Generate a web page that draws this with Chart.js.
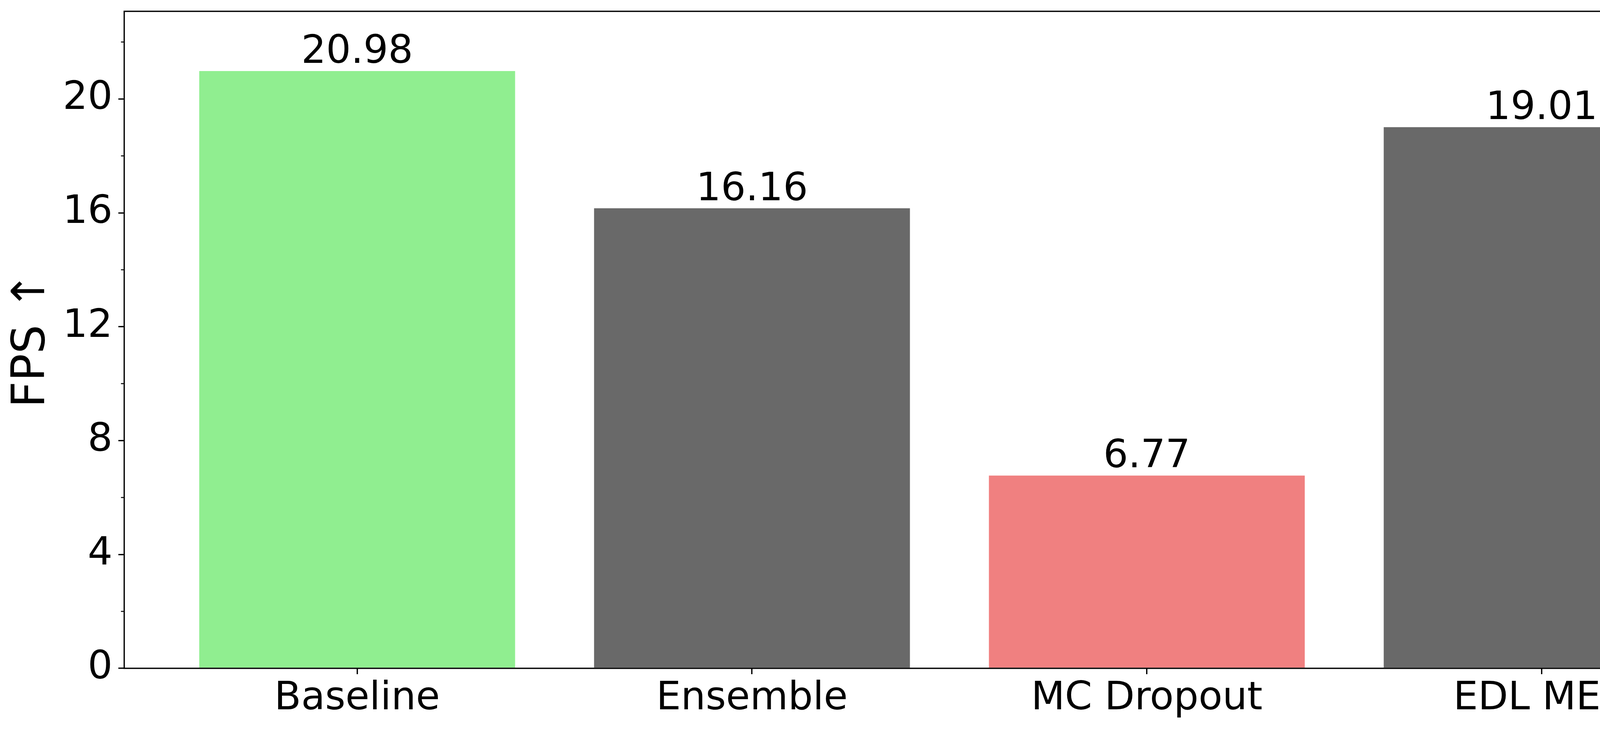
<!DOCTYPE html>
<html>
<head>
<meta charset="utf-8">
<script src="https://cdn.jsdelivr.net/npm/chart.js@4/dist/chart.umd.min.js"></script>
<style>
  html, body { margin: 0; padding: 0; background: #ffffff; overflow: hidden; }
  canvas { display: block; }
</style>
</head>
<body>
<canvas id="fpsChart" width="4572" height="1870"></canvas>
<script>
const categories = ['Baseline', 'Ensemble', 'MC Dropout', 'EDL MEH'];
const categoryPositions = [0, 1, 2, 3];
const fpsValues = [20.98, 16.16, 6.77, 19.01];
const valueLabels = ['20.98', '16.16', '6.77', '19.01'];
const barColors = ['#90EE90', '#696969', '#F08080', '#696969'];
const yMajorTicks = [0, 4, 8, 12, 16, 20];
const yMinorTicks = [2, 6, 10, 14, 18, 22];
const yMax = 23.078;
const xMin = -0.59;
const xMax = 3.59;

const LINE_W = 3.33;
const FONT = 'DejaVu Sans';

Chart.defaults.font.family = FONT;
Chart.defaults.color = '#000000';

// keep the plot box where matplotlib put it
function noPadding(axis) {
    axis.paddingTop = 0;
    axis.paddingBottom = 0;
    axis.paddingLeft = 0;
    axis.paddingRight = 0;
}

// spines (drawn on top of the bars like matplotlib), value labels, minor ticks
const frameAndLabels = {
    id: 'frameAndLabels',
    afterDatasetsDraw(chart) {
        const ctx = chart.ctx;
        const area = chart.chartArea;
        const meta = chart.getDatasetMeta(0);

        ctx.save();
        ctx.font = '100px "' + FONT + '"';
        ctx.fillStyle = '#000000';
        ctx.textAlign = 'center';
        ctx.textBaseline = 'alphabetic';
        meta.data.forEach((bar, i) => {
            ctx.fillText(valueLabels[i], bar.x, bar.y - 21);
        });

        ctx.strokeStyle = '#000000';
        ctx.lineWidth = LINE_W;
        ctx.strokeRect(area.left, area.top, area.right - area.left, area.bottom - area.top);
        ctx.restore();
    },
    afterDraw(chart) {
        const ctx = chart.ctx;
        const yScale = chart.scales.y;
        const left = chart.chartArea.left;
        ctx.save();
        ctx.strokeStyle = '#000000';
        ctx.lineWidth = 2.5;
        yMinorTicks.forEach(v => {
            const py = yScale.getPixelForValue(v);
            ctx.beginPath();
            ctx.moveTo(left - 8.3, py);
            ctx.lineTo(left, py);
            ctx.stroke();
        });
        ctx.restore();
    }
};

new Chart(document.getElementById('fpsChart'), {
    type: 'bar',
    data: {
        datasets: [{
            data: categoryPositions.map((x, i) => ({ x: x, y: fpsValues[i] })),
            backgroundColor: barColors,
            borderWidth: 0,
            categoryPercentage: 1.0,
            barPercentage: 0.8
        }]
    },
    options: {
        responsive: false,
        animation: false,
        devicePixelRatio: 1,
        layout: { padding: { top: 29, right: 29, left: 0, bottom: 0 } },
        plugins: {
            legend: { display: false },
            tooltip: { enabled: false }
        },
        scales: {
            x: {
                type: 'linear',
                offset: false,
                min: xMin,
                max: xMax,
                afterBuildTicks: axis => {
                    axis.ticks = categoryPositions.map(v => ({ value: v }));
                },
                afterFit: axis => { axis.height = 158; noPadding(axis); },
                border: { display: false },
                grid: {
                    offset: false,
                    drawOnChartArea: false,
                    drawTicks: true,
                    tickLength: 15,
                    lineWidth: LINE_W,
                    tickWidth: LINE_W,
                    tickColor: '#000000'
                },
                ticks: {
                    autoSkip: false,
                    maxRotation: 0,
                    padding: 4,
                    font: { size: 100 },
                    callback: v => categories[v]
                }
            },
            y: {
                min: 0,
                max: yMax,
                afterBuildTicks: axis => {
                    axis.ticks = yMajorTicks.map(v => ({ value: v }));
                },
                afterFit: axis => { axis.width = 318; noPadding(axis); },
                border: { display: false },
                grid: {
                    drawOnChartArea: false,
                    drawTicks: true,
                    tickLength: 15,
                    lineWidth: LINE_W,
                    tickWidth: LINE_W,
                    tickColor: '#000000'
                },
                ticks: {
                    padding: 15,
                    font: { size: 100 },
                    callback: v => String(v)
                },
                title: {
                    display: true,
                    text: 'FPS ↑',
                    font: { size: 117 },
                    padding: { top: 12, bottom: 0 }
                }
            }
        }
    },
    plugins: [frameAndLabels]
});
</script>
</body>
</html>
